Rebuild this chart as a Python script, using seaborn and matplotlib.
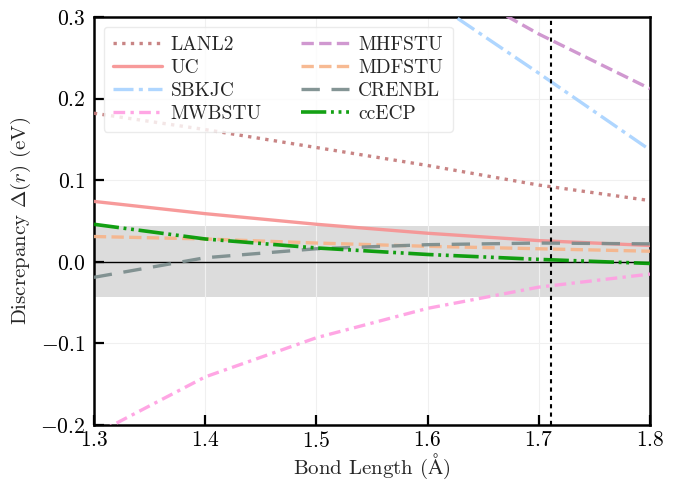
import numpy as np
import pandas as pd
import seaborn as sns
import matplotlib
matplotlib.use("Agg")
import matplotlib.pyplot as plt

# ---- data ----
bond_length = [1.3, 1.4, 1.5, 1.6, 1.7, 1.8]
LANL2 = [0.182, 0.162, 0.140, 0.118, 0.094, 0.075]
UC = [0.074, 0.059, 0.046, 0.035, 0.026, 0.020]
SBKJC = [0.68, 0.55, 0.43, 0.323, 0.231, 0.137]
MWBSTU = [-0.212, -0.141, -0.093, -0.057, -0.031, -0.015]
MHFSTU = [0.63, 0.53, 0.44, 0.355, 0.279, 0.212]
MDFSTU = [0.031, 0.028, 0.023, 0.019, 0.016, 0.013]
CRENBL = [-0.019, 0.005, 0.016, 0.021, 0.023, 0.022]
ccECP = [0.046, 0.028, 0.017, 0.009, 0.003, -0.002]

series_names = ["LANL2", "UC", "SBKJC", "MWBSTU", "MHFSTU", "MDFSTU", "CRENBL", "ccECP"]
series_values = [LANL2, UC, SBKJC, MWBSTU, MHFSTU, MDFSTU, CRENBL, ccECP]
eq_bond = 1.711
chem_acc = 0.0434
x_ticks = [1.3, 1.4, 1.5, 1.6, 1.7, 1.8]
y_ticks = [-0.2, -0.1, 0.0, 0.1, 0.2, 0.3]

colors = {
    "LANL2": "#c47a7a",
    "UC": "#f79292",
    "SBKJC": "#a8d3ff",
    "MWBSTU": "#ff9fe2",
    "MHFSTU": "#cc8fcc",
    "MDFSTU": "#f7b48a",
    "CRENBL": "#7a8c8c",
    "ccECP": "#009900",
}
styles = {
    "LANL2": (0, (1, 1.6)),
    "UC": "-",
    "SBKJC": (0, (6, 1.6, 1.2, 1.6)),
    "MWBSTU": (0, (3.5, 1.6, 1, 1.6)),
    "MHFSTU": (0, (3.7, 1.6)),
    "MDFSTU": (0, (3.7, 1.6)),
    "CRENBL": (0, (5.5, 3.5)),
    "ccECP": (0, (7, 1.3, 0.8, 1.3, 0.8, 1.3)),
}
widths = {k: 2.4 for k in series_names}
widths["ccECP"] = 2.6

df = pd.DataFrame({
    "bond": np.tile(bond_length, len(series_names)),
    "value": np.concatenate(series_values),
    "method": np.repeat(series_names, len(bond_length)),
})

sns.set_style("white")
plt.rcParams["font.family"] = ["cmr10", "DejaVu Serif"]
plt.rcParams["mathtext.fontset"] = "cm"
plt.rcParams["axes.formatter.use_mathtext"] = True
plt.rcParams["axes.unicode_minus"] = True

fig = plt.figure(figsize=(6.75, 4.82), dpi=100)
ax = fig.add_axes([0.139, 0.118, 0.824, 0.847])

ax.axhspan(-chem_acc, chem_acc, color="#dcdcdc", zorder=0, lw=0)
ax.axhline(0, color="black", lw=1.0, zorder=1)

for name in series_names:
    sub = df[df["method"] == name]
    sns.lineplot(data=sub, x="bond", y="value", ax=ax, color=colors[name],
                 lw=widths[name], linestyle=styles[name], label=name,
                 alpha=0.92, zorder=3, estimator=None, sort=False)

ax.axvline(eq_bond, color="black", lw=1.5, linestyle=(0, (2, 2)), zorder=4)

ax.set_xlim(1.3, 1.8)
ax.set_ylim(-0.2, 0.3)
ax.set_xticks(x_ticks)
ax.set_yticks(y_ticks)
ax.grid(True, color="#f0f0f0", lw=0.8, zorder=0)
ax.set_axisbelow(True)

for s in ax.spines.values():
    s.set_linewidth(1.8)
    s.set_color("black")
ax.tick_params(direction="in", length=7, width=1.6, labelsize=15.5,
               colors="black", left=True, bottom=True)
ax.tick_params(axis="x", pad=4)
ax.tick_params(axis="y", pad=6)

ax.set_xlabel(r"Bond Length ($\mathrm{\AA}$)", fontsize=15, labelpad=1)
ax.set_ylabel(r"Discrepancy $\Delta(r)$ (eV)", fontsize=15, labelpad=5)

leg = ax.legend(loc="upper left", ncol=2, fontsize=14, frameon=True,
                framealpha=0.8, edgecolor="#e6e6e6", fancybox=True,
                handlelength=2.5, columnspacing=2.0, labelspacing=0.25,
                borderpad=0.5, handletextpad=0.45)

fig.savefig("out.png", dpi=100)
